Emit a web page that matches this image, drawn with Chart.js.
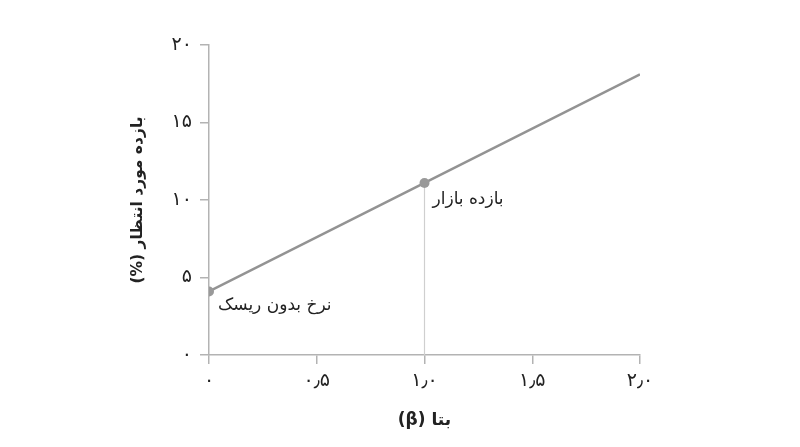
<!DOCTYPE html>
<html lang="fa">
<head>
<meta charset="utf-8">
<script src="https://cdn.jsdelivr.net/npm/chart.js@4"></script>
<style>
  html, body { margin: 0; padding: 0; background: #fff; }
  #wrap { width: 800px; height: 447px; }
</style>
</head>
<body>
<div id="wrap"><canvas id="smlChart" dir="rtl"></canvas></div>
<script>
// data
var betaValues = [0, 1, 2];
var returnValues = [4.1, 11.1, 18.1];
var pointLabels = ['نرخ بدون ریسک', 'بازده بازار', ''];
var xTickValues = [0, 0.5, 1, 1.5, 2];
var xTickLabels = ['۰', '۰٫۵', '۱٫۰', '۱٫۵', '۲٫۰'];
var yTickValues = [0, 5, 10, 15, 20];
var yTickLabels = ['۰', '۵', '۱۰', '۱۵', '۲۰'];
var marketIndex = 1;

var FONT = "'DejaVu Sans', 'Noto Sans', sans-serif";
var axisGray = '#b3b3b3';

var linePoints = betaValues.map(function (b, i) { return { x: b, y: returnValues[i] }; });
var dropLine = [
    { x: betaValues[marketIndex], y: 0 },
    { x: betaValues[marketIndex], y: returnValues[marketIndex] }
];

// annotation texts next to the points
var pointLabelPlugin = {
    id: 'pointLabels',
    afterDatasetsDraw: function (chart) {
        var ctx = chart.ctx;
        var xs = chart.scales.x, ys = chart.scales.y;
        ctx.save();
        ctx.font = '17px ' + FONT;
        ctx.fillStyle = '#222';
        ctx.textBaseline = 'middle';
        ctx.direction = 'rtl';
        ctx.textAlign = 'right';
        // risk free label
        var px = xs.getPixelForValue(betaValues[0]);
        var py = ys.getPixelForValue(returnValues[0]);
        var w0 = ctx.measureText(pointLabels[0]).width;
        ctx.fillText(pointLabels[0], px + 9 + w0, py + 14);
        // market label
        px = xs.getPixelForValue(betaValues[marketIndex]);
        py = ys.getPixelForValue(returnValues[marketIndex]);
        var w1 = ctx.measureText(pointLabels[marketIndex]).width;
        ctx.fillText(pointLabels[marketIndex], px + 8 + w1, py + 17);
        ctx.restore();
    }
};

new Chart(document.getElementById('smlChart'), {
    type: 'scatter',
    data: {
        datasets: [{
            data: dropLine,
            showLine: true,
            borderColor: '#cfcfcf',
            borderWidth: 1.2,
            pointRadius: 0,
            order: 2
        }, {
            data: linePoints,
            showLine: true,
            borderColor: '#939393',
            borderWidth: 2.5,
            pointRadius: [5, 5, 0],
            pointBackgroundColor: '#999999',
            pointBorderWidth: 0,
            order: 1
        }]
    },
    options: {
        responsive: true,
        maintainAspectRatio: false,
        animation: false,
        layout: { padding: { left: 125, right: 160, top: 45, bottom: 10 } },
        plugins: {
            legend: { display: false },
            tooltip: { enabled: false }
        },
        scales: {
            x: {
                type: 'linear',
                min: 0,
                max: 2,
                afterBuildTicks: function (scale) {
                    scale.ticks = xTickValues.map(function (v) { return { value: v }; });
                },
                afterFit: function (scale) { scale.height = 82; },
                grid: { drawOnChartArea: false, color: axisGray, tickLength: 9, lineWidth: 1.5 },
                border: { color: axisGray, width: 1.5 },
                ticks: {
                    padding: 6,
                    color: '#222',
                    font: { family: FONT, size: 19 },
                    maxRotation: 0,
                    callback: function (v) {
                        var i = xTickValues.indexOf(v);
                        return i >= 0 ? xTickLabels[i] : '';
                    }
                },
                title: {
                    display: true,
                    text: 'بتا (β)',
                    color: '#222',
                    font: { family: FONT, size: 17, weight: 'bold' },
                    padding: { top: 2, bottom: 6 }
                }
            },
            y: {
                type: 'linear',
                min: 0,
                max: 20,
                afterBuildTicks: function (scale) {
                    scale.ticks = yTickValues.map(function (v) { return { value: v }; });
                },
                afterFit: function (scale) { scale.width = 84; },
                grid: { drawOnChartArea: false, color: axisGray, tickLength: 9, lineWidth: 1.5 },
                border: { color: axisGray, width: 1.5 },
                ticks: {
                    padding: 8,
                    color: '#222',
                    font: { family: FONT, size: 19 },
                    callback: function (v) {
                        var i = yTickValues.indexOf(v);
                        return i >= 0 ? yTickLabels[i] : '';
                    }
                },
                title: {
                    display: true,
                    text: 'بازده مورد انتظار (%)',
                    color: '#222',
                    font: { family: FONT, size: 15.5, weight: 'bold' },
                    padding: { top: 4, bottom: 4 }
                }
            }
        }
    },
    plugins: [pointLabelPlugin]
});
</script>
</body>
</html>
